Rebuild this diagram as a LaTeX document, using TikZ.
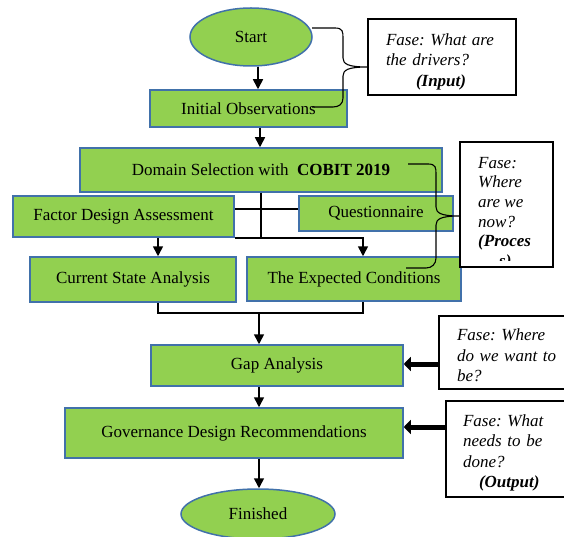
\documentclass[tikz,border=0pt]{standalone}
\usepackage{fontspec}
\setmainfont{Liberation Serif}
\usetikzlibrary{shapes.geometric,arrows.meta,calc}
\definecolor{boxgreen}{RGB}{146,208,80}
\definecolor{boxblue}{RGB}{65,113,170}
\tikzset{
  box/.style={draw=boxblue, line width=1.5pt, fill=boxgreen, inner sep=0pt,
    font=\fontsize{17}{20}\selectfont},
  term/.style={ellipse, draw=boxblue, line width=1.5pt, fill=boxgreen, inner sep=0pt,
    font=\fontsize{17}{20}\selectfont},
  fase/.style={draw=black, line width=1.2pt, fill=white, align=left,
    font=\fontsize{17}{20.5}\selectfont\itshape\frenchspacing},
  arr/.style={line width=1.6pt, -{Triangle[width=10pt,length=10pt]}},
  thickarr/.style={line width=5pt, -{Triangle[width=14pt,length=7pt]}},
  bracel/.style={line width=1.1pt}
}
\begin{document}
\begin{tikzpicture}[x=1pt,y=-1pt]
\useasboundingbox (0,0) rectangle (564,537);
% main nodes
\node[term, minimum width=122, minimum height=58] (start) at (251,37) {Start};
\node[box, minimum width=197, minimum height=37] (init) at (248.5,108.5) {Initial Observations};
\node[box, minimum width=362, minimum height=44] (domain) at (261,170) {Domain Selection with\ \ \textbf{COBIT 2019}};
\node[box, minimum width=221, minimum height=41] (factor) at (123.5,216.5) {Factor Design Assessment};
\node[box, minimum width=154, minimum height=35] (quest) at (376,213.5) {Questionnaire};
\node[box, minimum width=206, minimum height=45] (current) at (133,279.5) {Current State Analysis};
\node[box, minimum width=214, minimum height=44] (expected) at (354,279) {The Expected Conditions};
\node[box, minimum width=252, minimum height=41] (gap) at (277,365.5) {Gap Analysis};
\node[box, minimum width=338, minimum height=50] (gov) at (234,433) {Governance Design Recommendations};
\node[term, minimum width=154, minimum height=50] (finished) at (258,514) {Finished};
% phase boxes
\node[fase, minimum width=148, minimum height=76, inner xsep=18pt, text width=112pt] (fase1) at (442,57)
  {\rule{0pt}{21.6pt}Fase: What are\\the drivers?\\\hspace*{30pt}\textbf{(Input)}};
\node[fase, minimum width=93, minimum height=125] (fase2) at (506.5,204.5) {};
\begin{scope}
  \clip (fase2.north west) rectangle ($(fase2.south east)+(0pt,7.5pt)$);
  \node[anchor=north west, inner sep=0pt, align=left, font=\fontsize{17}{19.6}\selectfont\itshape\frenchspacing]
    (fase2text) at (478,157) {Fase:\\Where\\are we\\now?\\\textbf{(Proces}\\\hspace*{21pt}\textbf{s)}};
\end{scope}
\node[fase, minimum width=136, minimum height=73, inner xsep=18pt, text width=100pt] (fase3) at (507,352.5)
  {\rule{0pt}{17.6pt}Fase: Where\\do we want to\\be?};
\node[fase, minimum width=129, minimum height=96, inner xsep=17pt, text width=95pt] (fase4) at (510.5,449)
  {\rule{0pt}{19.6pt}Fase: What\\needs to be\\done?\\\hspace*{16pt}\textbf{(Output)}};
% helper coordinates
\coordinate (xA) at (258,0);
\coordinate (xB) at (260,0);
\coordinate (jn) at (261,237);
\coordinate (hq) at (0,209);
\coordinate (xC) at (158,0);
\coordinate (xE) at (363,0);
\coordinate (yM) at (0,313);
\coordinate (xG) at (259,0);
\coordinate (y3) at (0,364);
\coordinate (y4) at (0,427);
% connectors
\draw[arr] (start.south -| xA) -- (init.north -| xA);
\draw[arr] (init.south -| xB) -- (domain.north -| xB);
\draw[line width=1.6pt] (domain.south -| jn) -- (jn);
\draw[line width=1.6pt] (factor.east |- hq) -- (quest.west |- hq);
\draw[arr] (factor.south east) -| (expected.north -| xE);
\draw[arr] (factor.south -| xC) -- (current.north -| xC);
\draw[line width=1.6pt] (current.south -| xC) -- (xC |- yM) -- (xE |- yM) -- (expected.south -| xE);
\draw[arr] (xG |- yM) -- (gap.north -| xG);
\draw[arr] (gap.south -| xG) -- (gov.north -| xG);
\draw[arr] (gov.south -| xG) -- (finished.north -| xG);
\draw[thickarr] (fase3.west |- y3) -- (gap.east |- y3);
\draw[thickarr] (fase4.west |- y4) -- (gov.east |- y4);
% braces
\coordinate (b1s) at (312,28);
\coordinate (b1e) at (312,107);
\coordinate (b1y) at (0,67);
\draw[bracel] (b1s) -- (335,28) .. controls (343,28) and (343,32) .. (343,38) -- (343,58)
  .. controls (343,64) and (348,67) .. (fase1.west |- b1y)
  .. controls (348,67) and (343,70) .. (343,76) -- (343,98)
  .. controls (343,104) and (339,107) .. (333,107) -- (b1e);
\coordinate (b2s) at (408,164);
\coordinate (b2e) at (406,268);
\coordinate (b2y) at (0,216);
\draw[bracel] (b2s) -- (428,164) .. controls (436,164) and (436,168) .. (436,174) -- (436,207)
  .. controls (436,213) and (441,216) .. (fase2.west |- b2y)
  .. controls (441,216) and (436,219) .. (436,225) -- (436,258)
  .. controls (436,264) and (432,268) .. (426,268) -- (b2e);
\end{tikzpicture}
\end{document}
